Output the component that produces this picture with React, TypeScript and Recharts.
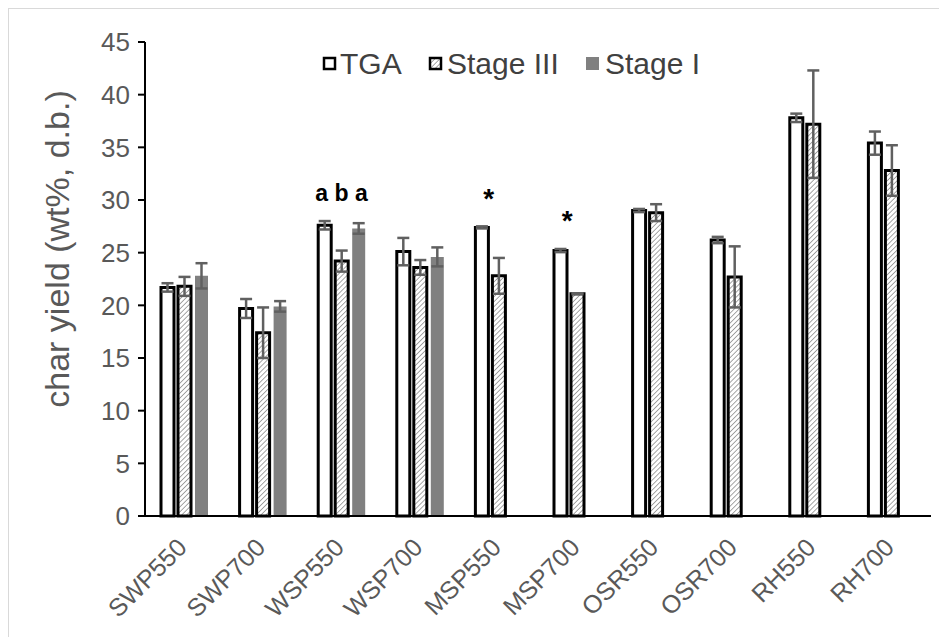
import { BarChart, Bar, XAxis, YAxis, ErrorBar, ReferenceDot, Label } from 'recharts'

// char yield (wt%, d.b.) per sample
const samples = ['SWP550', 'SWP700', 'WSP550', 'WSP700', 'MSP550', 'MSP700', 'OSR550', 'OSR700', 'RH550', 'RH700']
const tga = [21.7, 19.7, 27.6, 25.1, 27.4, 25.2, 29.0, 26.2, 37.8, 35.4]
const tgaErr = [0.4, 0.9, 0.4, 1.3, 0.1, 0.15, 0.15, 0.3, 0.4, 1.1]
const stageIII = [21.8, 17.4, 24.2, 23.6, 22.8, 21.1, 28.8, 22.7, 37.2, 32.8]
const stageIIIErr = [0.9, 2.4, 1.0, 0.7, 1.7, 0.05, 0.8, 2.9, 5.1, 2.4]
const stageI = [22.8, 19.9, 27.3, 24.6, null, null, null, null, null, null]
const stageIErr = [1.2, 0.5, 0.5, 0.9, null, null, null, null, null, null]
const yTicks = [0, 5, 10, 15, 20, 25, 30, 35, 40, 45]

// significance marks above the groups
const notes = [
  { sample: 'WSP550', at: 30.67, text: 'a b a', shift: 0, size: 23 },
  { sample: 'MSP550', at: 30.2, text: '*', shift: -10, size: 28 },
  { sample: 'MSP700', at: 28.1, text: '*', shift: -10, size: 28 },
]

const FONT = '"Liberation Sans", Arial, sans-serif'
const GREY = '#595959'
const ERR = '#606060'

const data = samples.map((name, i) => ({
  name,
  tga: tga[i],
  tgaErr: tgaErr[i],
  stageIII: stageIII[i],
  stageIIIErr: stageIIIErr[i],
  stageI: stageI[i],
  stageIErr: stageIErr[i],
}))

function SampleTick(props: any) {
  const { x, y, payload } = props
  const ax = x + 4
  const ay = y + 25
  return (
    <text
      x={ax}
      y={ay}
      transform={`rotate(-45 ${ax} ${ay})`}
      textAnchor="end"
      fill={GREY}
      fontSize={25}
      fontFamily={FONT}
    >
      {payload.value}
    </text>
  )
}

function YTitle(props: any) {
  const { viewBox } = props
  const x = viewBox.x + 4
  const y = viewBox.y + viewBox.height / 2 - 30
  return (
    <text
      x={x}
      y={y}
      transform={`rotate(-90 ${x} ${y})`}
      textAnchor="middle"
      fill={GREY}
      fontSize={34}
      fontFamily={FONT}
    >
      char yield (wt%, d.b.)
    </text>
  )
}

function LegendOverlay() {
  return (
    <svg width={930} height={80} style={{ position: 'absolute', left: 0, top: 0, pointerEvents: 'none' }}>
      <defs>
        <pattern id="hatchKey" patternUnits="userSpaceOnUse" width="3.5" height="3.5" patternTransform="rotate(45)">
          <rect width="3.5" height="3.5" fill="#fff" />
          <line x1="0" y1="0" x2="0" y2="3.5" stroke="#808080" strokeWidth="1.4" />
        </pattern>
      </defs>
      <rect x={315} y={49} width={11} height={11} fill="#fff" stroke="#000" strokeWidth={2.5} />
      <text x={331} y={65} fontSize={30} fontFamily={FONT} fill="#404040">TGA</text>
      <rect x={421} y={49} width={11} height={11} fill="url(#hatchKey)" stroke="#000" strokeWidth={2.5} />
      <text x={438} y={65} fontSize={30} fontFamily={FONT} fill="#404040">Stage III</text>
      <rect x={577} y={48} width={13} height={13} fill="#808080" />
      <text x={596} y={65} fontSize={30} fontFamily={FONT} fill="#404040">Stage I</text>
    </svg>
  )
}

export default function App() {
  return (
    <div style={{ position: 'relative', width: 930, height: 628, border: '1px solid #d9d9d9', background: '#fff' }}>
      <BarChart
        width={930}
        height={628}
        data={data}
        margin={{ top: 33, right: 8, bottom: 6, left: 56 }}
        barSize={13}
        barGap={4}
      >
        <defs>
          <pattern id="hatch" patternUnits="userSpaceOnUse" width="3.5" height="3.5" patternTransform="rotate(45)">
            <rect width="3.5" height="3.5" fill="#fff" />
            <line x1="0" y1="0" x2="0" y2="3.5" stroke="#808080" strokeWidth="1.4" />
          </pattern>
        </defs>
        <XAxis
          dataKey="name"
          height={115}
          axisLine={{ stroke: '#000', strokeWidth: 2 }}
          tickLine={false}
          tick={<SampleTick />}
          interval={0}
        />
        <YAxis
          width={80}
          domain={[0, 45]}
          ticks={yTicks}
          interval={0}
          axisLine={{ stroke: '#000', strokeWidth: 2 }}
          tickLine={{ stroke: '#000', strokeWidth: 2 }}
          tickSize={7}
          tickMargin={8}
          tick={{ fill: GREY, fontSize: 26, fontFamily: FONT }}
        >
          <Label content={<YTitle />} />
        </YAxis>
        <Bar dataKey="tga" fill="#fff" stroke="#000" strokeWidth={3} isAnimationActive={false}>
          <ErrorBar dataKey="tgaErr" width={6} stroke={ERR} strokeWidth={2.5} direction="y" />
        </Bar>
        <Bar dataKey="stageIII" fill="url(#hatch)" stroke="#000" strokeWidth={3} isAnimationActive={false}>
          <ErrorBar dataKey="stageIIIErr" width={6} stroke={ERR} strokeWidth={2.5} direction="y" />
        </Bar>
        <Bar dataKey="stageI" fill="#808080" isAnimationActive={false}>
          <ErrorBar dataKey="stageIErr" width={6} stroke={ERR} strokeWidth={2.5} direction="y" />
        </Bar>
        {notes.map((n) => (
          <ReferenceDot
            key={n.sample}
            x={n.sample}
            y={n.at}
            r={0}
            fill="none"
            stroke="none"
            label={{
              value: n.text,
              position: 'center',
              dx: n.shift,
              fill: '#000',
              fontSize: n.size,
              fontWeight: 'bold',
              fontFamily: FONT,
            }}
          />
        ))}
      </BarChart>
      <LegendOverlay />
    </div>
  )
}
